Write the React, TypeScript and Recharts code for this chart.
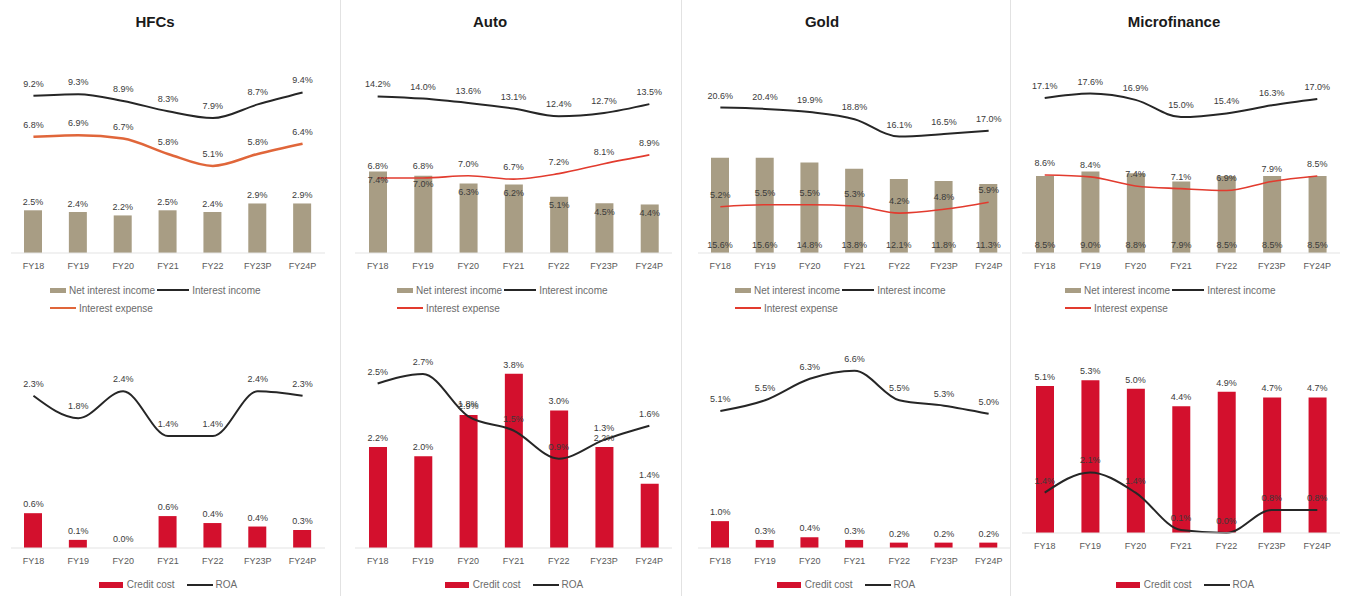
import React from "react";
import { ComposedChart, Bar, Line, XAxis, YAxis, LabelList } from "recharts";

const years = ["FY18", "FY19", "FY20", "FY21", "FY22", "FY23P", "FY24P"];

// HFCs
const hfcNii = [2.5, 2.4, 2.2, 2.5, 2.4, 2.9, 2.9];
const hfcIntInc = [9.2, 9.3, 8.9, 8.3, 7.9, 8.7, 9.4];
const hfcIntExp = [6.8, 6.9, 6.7, 5.8, 5.1, 5.8, 6.4];
const hfcCredit = [0.6, 0.14, 0.0, 0.55, 0.43, 0.37, 0.31];
const hfcRoa = [2.3, 1.8, 2.4, 1.4, 1.4, 2.4, 2.3];

// Auto
const autoNii = [7.4, 7.0, 6.3, 6.2, 5.1, 4.5, 4.4];
const autoIntInc = [14.2, 14.0, 13.6, 13.1, 12.4, 12.7, 13.5];
const autoIntExp = [6.8, 6.8, 7.0, 6.7, 7.2, 8.1, 8.9];
const autoCredit = [2.2, 2.0, 2.9, 3.8, 3.0, 2.2, 1.4];
const autoRoa = [2.5, 2.7, 1.8, 1.5, 0.9, 1.3, 1.6];

// Gold
const goldNii = [15.6, 15.6, 14.8, 13.8, 12.1, 11.8, 11.3];
const goldIntInc = [20.6, 20.4, 19.9, 18.8, 16.1, 16.5, 17.0];
const goldIntExp = [5.2, 5.5, 5.5, 5.3, 4.2, 4.8, 5.9];
const goldCredit = [1.0, 0.3, 0.4, 0.3, 0.2, 0.2, 0.2];
const goldRoa = [5.1, 5.5, 6.3, 6.6, 5.5, 5.3, 5.0];

// Microfinance
const mfNii = [8.5, 9.0, 8.8, 7.9, 8.5, 8.5, 8.5];
const mfIntInc = [17.1, 17.6, 16.9, 15.0, 15.4, 16.3, 17.0];
const mfIntExp = [8.6, 8.4, 7.4, 7.1, 6.9, 7.9, 8.5];
const mfCredit = [5.1, 5.3, 5.0, 4.4, 4.9, 4.7, 4.7];
const mfRoa = [1.4, 2.1, 1.4, 0.1, 0.0, 0.8, 0.8];

const FONT = "'Liberation Sans', Arial, sans-serif";
const TAN = "#a89d84";
const CRIMSON = "#d3102d";
const LINE_DARK = "#262626";
const LABEL = "#3a3a3a";

const fmt = (v: any) => `${Number(v).toFixed(1)}%`;

const axisTick = { fill: "#595959", fontSize: 9, fontFamily: FONT };

type Pos = "top" | "insideTop" | "insideBottom";

function TopChart(props: {
  left: number; width: number; nii: number[]; inc: number[]; exp: number[];
  barMax: number; lineDomain?: [number, number]; niiPos: Pos;
  expColor: string; expWidth: number;
}) {
  const { left, width, nii, inc, exp, barMax, lineDomain, niiPos, expColor, expWidth } = props;
  const data = years.map((y, i) => ({ year: y, nii: nii[i], inc: inc[i], exp: exp[i] }));
  const lineAxis = lineDomain ? "l" : "b";
  return (
    <div style={{ position: "absolute", left, top: 60 }}>
      <ComposedChart width={width} height={215} data={data} margin={{ top: 0, right: 0, bottom: 0, left: 0 }}>
        <XAxis dataKey="year" height={22} tick={axisTick} tickLine={false} axisLine={{ stroke: "#e3e3e3" }} tickMargin={4} interval={0} />
        <YAxis yAxisId="b" hide domain={[0, barMax]} />
        <YAxis yAxisId="l" hide domain={lineDomain ?? [0, barMax]} />
        <Bar yAxisId="b" dataKey="nii" fill={TAN} barSize={18} isAnimationActive={false}>
          <LabelList dataKey="nii" position={niiPos} formatter={fmt} fill={LABEL} fontSize={9} fontFamily={FONT} />
        </Bar>
        <Line yAxisId={lineAxis} dataKey="inc" type="monotone" stroke={LINE_DARK} strokeWidth={2} dot={false} isAnimationActive={false}>
          <LabelList dataKey="inc" position="top" offset={9} formatter={fmt} fill={LABEL} fontSize={9} fontFamily={FONT} />
        </Line>
        <Line yAxisId={lineAxis} dataKey="exp" type="monotone" stroke={expColor} strokeWidth={expWidth} dot={false} isAnimationActive={false}>
          <LabelList dataKey="exp" position="top" offset={9} formatter={fmt} fill={LABEL} fontSize={9} fontFamily={FONT} />
        </Line>
      </ComposedChart>
    </div>
  );
}

function BottomChart(props: {
  left: number; width: number; height: number; credit: number[]; roa: number[];
  barMax: number; roaDomain?: [number, number];
}) {
  const { left, width, height, credit, roa, barMax, roaDomain } = props;
  const data = years.map((y, i) => ({ year: y, credit: credit[i], roa: roa[i] }));
  const roaAxis = roaDomain ? "r" : "b";
  return (
    <div style={{ position: "absolute", left, top: 344 }}>
      <ComposedChart width={width} height={height + 16} data={data} margin={{ top: 16, right: 0, bottom: 0, left: 0 }}>
        <XAxis dataKey="year" height={22} tick={axisTick} tickLine={false} axisLine={{ stroke: "#e3e3e3" }} tickMargin={4} interval={0} />
        <YAxis yAxisId="b" hide domain={[0, barMax]} />
        <YAxis yAxisId="r" hide domain={roaDomain ?? [0, barMax]} />
        <Bar yAxisId="b" dataKey="credit" fill={CRIMSON} barSize={18} isAnimationActive={false} />
        {/* invisible carrier so that every credit-cost value (even 0.0%) gets its label */}
        <Line yAxisId="b" dataKey="credit" stroke="none" dot={false} activeDot={false} legendType="none" isAnimationActive={false}>
          <LabelList dataKey="credit" position="top" offset={6} formatter={fmt} fill={LABEL} fontSize={9} fontFamily={FONT} />
        </Line>
        <Line yAxisId={roaAxis} dataKey="roa" type="monotone" stroke={LINE_DARK} strokeWidth={2} dot={false} isAnimationActive={false}>
          <LabelList dataKey="roa" position="top" offset={9} formatter={fmt} fill={LABEL} fontSize={9} fontFamily={FONT} />
        </Line>
      </ComposedChart>
    </div>
  );
}

const legendText: React.CSSProperties = { fontSize: 10, color: "#6b6b6b", fontFamily: FONT, whiteSpace: "nowrap" };

function TopLegend({ left, expColor }: { left: number; expColor: string }) {
  return (
    <div style={{ position: "absolute", left, top: 284, ...legendText }}>
      <div style={{ display: "flex", alignItems: "center", height: 12 }}>
        <span style={{ width: 16, height: 5, background: TAN, marginRight: 3 }} />
        <span>Net interest income</span>
        <span style={{ width: 32, height: 2, background: LINE_DARK, margin: "0 3px 0 2px" }} />
        <span>Interest income</span>
      </div>
      <div style={{ display: "flex", alignItems: "center", height: 12, marginTop: 6 }}>
        <span style={{ width: 26, height: 2, background: expColor, marginRight: 3 }} />
        <span>Interest expense</span>
      </div>
    </div>
  );
}

function BottomLegend({ center }: { center: number }) {
  return (
    <div style={{ position: "absolute", left: center - 80, width: 160, top: 579, display: "flex", justifyContent: "center", alignItems: "center", ...legendText }}>
      <span style={{ width: 24, height: 6, background: CRIMSON, marginRight: 4 }} />
      <span>Credit cost</span>
      <span style={{ width: 26, height: 2, background: LINE_DARK, margin: "0 3px 0 12px" }} />
      <span>ROA</span>
    </div>
  );
}

function Title({ center, text }: { center: number; text: string }) {
  return (
    <div style={{ position: "absolute", left: center - 80, width: 160, top: 13, textAlign: "center", fontFamily: FONT, fontWeight: 700, fontSize: 15, color: "#1a1a1a" }}>
      {text}
    </div>
  );
}

export default function App() {
  return (
    <div style={{ position: "absolute", left: 0, top: 0, width: 1346, height: 596, background: "#fff", overflow: "hidden" }}>
      {[340, 681, 1010].map((x) => (
        <div key={x} style={{ position: "absolute", left: x, top: 0, width: 1, height: 596, background: "#e2e2e2" }} />
      ))}

      <Title center={155} text="HFCs" />
      <Title center={490} text="Auto" />
      <Title center={822} text="Gold" />
      <Title center={1174} text="Microfinance" />

      <TopChart left={11} width={314} nii={hfcNii} inc={hfcIntInc} exp={hfcIntExp} barMax={11.3} niiPos="top" expColor="#e0663a" expWidth={2.5} />
      <TopChart left={355} width={317} nii={autoNii} inc={autoIntInc} exp={autoIntExp} barMax={17.5} niiPos="insideTop" expColor="#e23b2e" expWidth={1.6} />
      <TopChart left={698} width={313} nii={goldNii} inc={goldIntInc} exp={goldIntExp} barMax={31.6} lineDomain={[-2, 28]} niiPos="insideBottom" expColor="#e23b2e" expWidth={1.6} />
      <TopChart left={1022} width={318} nii={mfNii} inc={mfIntInc} exp={mfIntExp} barMax={21.3} niiPos="insideBottom" expColor="#e23b2e" expWidth={1.6} />

      <TopLegend left={50} expColor="#e0663a" />
      <TopLegend left={397} expColor="#e23b2e" />
      <TopLegend left={735} expColor="#e23b2e" />
      <TopLegend left={1065} expColor="#e23b2e" />

      <BottomChart left={11} width={314} height={210} credit={hfcCredit} roa={hfcRoa} barMax={3.24} roaDomain={[-1.1, 3.1]} />
      <BottomChart left={355} width={317} height={210} credit={autoCredit} roa={autoRoa} barMax={4.1} roaDomain={[-1.0, 3.0]} />
      <BottomChart left={698} width={313} height={210} credit={goldCredit} roa={goldRoa} barMax={7} />
      <BottomChart left={1022} width={318} height={195} credit={mfCredit} roa={mfRoa} barMax={6} />

      <BottomLegend center={168} />
      <BottomLegend center={514} />
      <BottomLegend center={846} />
      <BottomLegend center={1185} />
    </div>
  );
}
